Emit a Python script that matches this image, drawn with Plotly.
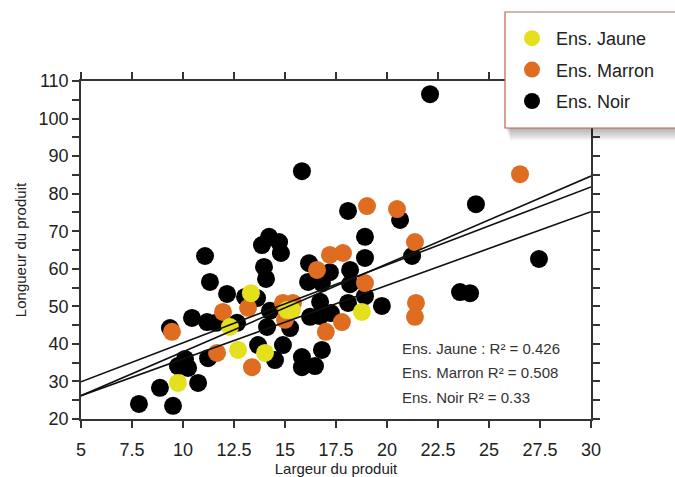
import plotly.graph_objects as go

# ---------------- data ----------------
x_tick_values = [5, 7.5, 10, 12.5, 15, 17.5, 20, 22.5, 25, 27.5, 30]
x_tick_labels = ["5", "7.5", "10", "12.5", "15", "17.5", "20", "22.5", "25", "27.5", "30"]
y_tick_values = [20, 30, 40, 50, 60, 70, 80, 90, 100, 110]
y_tick_labels = ["20", "30", "40", "50", "60", "70", "80", "90", "100", "110"]

noir_x = [22.11, 15.83, 24.36, 27.45, 23.58, 24.07, 20.64, 18.09, 18.92, 18.92,
          21.23, 14.22, 13.87, 14.71, 14.80, 13.97, 14.07, 11.08, 11.32, 12.16,
          13.63, 13.04, 10.44, 11.18, 11.62, 9.36, 12.65, 14.12, 14.26, 15.25,
          16.18, 16.13, 16.81, 17.20, 18.19, 18.19, 18.92, 16.72, 16.23, 16.72,
          17.25, 18.09, 19.75, 13.68, 14.90, 14.51, 16.81, 15.83, 15.83, 16.47,
          11.23, 10.10, 9.75, 10.25, 10.74, 8.87, 7.84, 9.51]
noir_y = [106.5, 86.0, 77.2, 62.6, 53.8, 53.5, 73.0, 75.4, 68.5, 62.9,
          63.4, 68.5, 66.3, 67.1, 64.2, 60.5, 57.3, 63.4, 56.5, 53.3,
          52.2, 52.5, 46.9, 45.8, 45.6, 44.2, 45.6, 44.5, 48.8, 44.2,
          61.5, 56.5, 56.2, 59.1, 59.7, 55.9, 52.7, 51.2, 47.2, 47.4,
          48.2, 50.9, 50.1, 39.7, 39.7, 35.7, 38.4, 36.5, 33.8, 34.1,
          36.2, 36.0, 34.1, 33.6, 29.6, 28.3, 24.0, 23.5]

marron_x = [26.52, 19.02, 20.49, 21.37, 17.20, 17.84, 16.57, 18.92, 21.42, 21.37,
            17.79, 17.00, 11.96, 13.19, 9.46, 11.67, 13.38, 14.90, 15.39, 15.00]
marron_y = [85.2, 76.7, 75.9, 67.1, 63.7, 64.2, 59.7, 56.2, 50.9, 47.2,
            45.8, 43.2, 48.5, 49.6, 43.2, 37.6, 33.8, 50.9, 50.9, 46.4]

jaune_x = [13.33, 12.30, 12.70, 14.02, 9.75, 15.10, 15.34, 18.77]
jaune_y = [53.5, 44.5, 38.4, 37.6, 29.6, 49.0, 49.0, 48.5]

fit_x = [5, 30]
fit_line_a = [29.9, 81.8]
fit_line_b = [26.2, 84.7]
fit_line_c = [26.2, 75.2]

r2_labels = ["Ens. Jaune : R² = 0.426", "Ens. Marron R² = 0.508", "Ens. Noir R² = 0.33"]

# ---------------- figure ----------------
FONT = "Liberation Sans, Arial, sans-serif"
W, H = 675, 477
L, R, T, B = 81, 84, 81, 58
PW, PH = W - L - R, H - T - B


def px_x(p):
    return (p - L) / PW


def px_y(p):
    return (H - B - p) / PH


fig = go.Figure()

fig.add_trace(go.Scatter(x=noir_x, y=noir_y, mode="markers", name="Ens. Noir",
                         legendgroup="n", legendrank=3,
                         marker=dict(color="#000000", size=18, line=dict(width=0))))
fig.add_trace(go.Scatter(x=marron_x, y=marron_y, mode="markers", name="Ens. Marron",
                         legendgroup="m", legendrank=2,
                         marker=dict(color="#DE6D22", size=18, line=dict(width=0))))
fig.add_trace(go.Scatter(x=jaune_x, y=jaune_y, mode="markers", name="Ens. Jaune",
                         legendgroup="j", legendrank=1,
                         marker=dict(color="#E4E01E", size=18, line=dict(width=0))))

for fy in (fit_line_a, fit_line_b, fit_line_c):
    fig.add_trace(go.Scatter(x=fit_x, y=fy, mode="lines", showlegend=False,
                             line=dict(color="#111111", width=1.6)))

axis_common = dict(
    showgrid=False, zeroline=False, showline=True, linecolor="#333333", linewidth=1.5,
    mirror="ticks", ticks="outside", ticklen=7, tickwidth=1.5, tickcolor="#333333",
    tickfont=dict(family=FONT, size=18, color="#222222"), automargin=False,
)

fig.update_xaxes(range=[5, 30], tickmode="array", tickvals=x_tick_values,
                 ticktext=x_tick_labels, ticklabelstandoff=7,
                 title=dict(text="Largeur du produit", standoff=3,
                            font=dict(family=FONT, size=15, color="#222222")),
                 **axis_common)
fig.update_yaxes(range=[20, 110], tickmode="array", tickvals=y_tick_values,
                 ticktext=y_tick_labels,
                 minor=dict(dtick=5, tick0=0, ticks="outside", ticklen=7, tickwidth=1.5,
                            tickcolor="#333333", showgrid=False),
                 title=dict(text="Longueur du produit", standoff=8,
                            font=dict(family=FONT, size=15, color="#222222")),
                 **axis_common)

# legend box with soft shadow (drawn as shapes above axes)
shapes = []
for k in range(1, 10):
    shapes.append(dict(type="rect", xref="paper", yref="paper", layer="above",
                       x0=px_x(505 + k * 0.6), x1=px_x(720), y0=px_y(128 + k * 1.4),
                       y1=px_y(12 + k), fillcolor="rgba(0,0,0,0.035)",
                       line=dict(width=0)))
shapes.append(dict(type="rect", xref="paper", yref="paper", layer="above",
                   x0=px_x(505), x1=px_x(720), y0=px_y(128), y1=px_y(12),
                   fillcolor="#FFFFFF", line=dict(color="#B9654F", width=1.2)))

annotations = []
for i, txt in enumerate(r2_labels):
    annotations.append(dict(text=txt, xref="paper", yref="paper",
                            x=px_x(400), y=px_y(348 + i * 24.5),
                            xanchor="left", yanchor="middle", showarrow=False,
                            font=dict(family=FONT, size=15, color="#333333")))

fig.update_layout(
    width=W, height=H, autosize=False,
    margin=dict(l=L, r=R, t=T, b=B, autoexpand=False),
    paper_bgcolor="#FFFFFF", plot_bgcolor="#FFFFFF",
    shapes=shapes, annotations=annotations,
    showlegend=True,
    legend=dict(x=px_x(508), y=px_y(20), xanchor="left", yanchor="top",
                bgcolor="rgba(0,0,0,0)", borderwidth=0, tracegroupgap=5,
                itemsizing="trace", itemwidth=38,
                font=dict(family=FONT, size=18, color="#222222")),
)

fig.write_html("out.html", config={"displayModeBar": False},
               post_script="document.body.style.margin='0px';document.body.style.overflow='hidden';")
